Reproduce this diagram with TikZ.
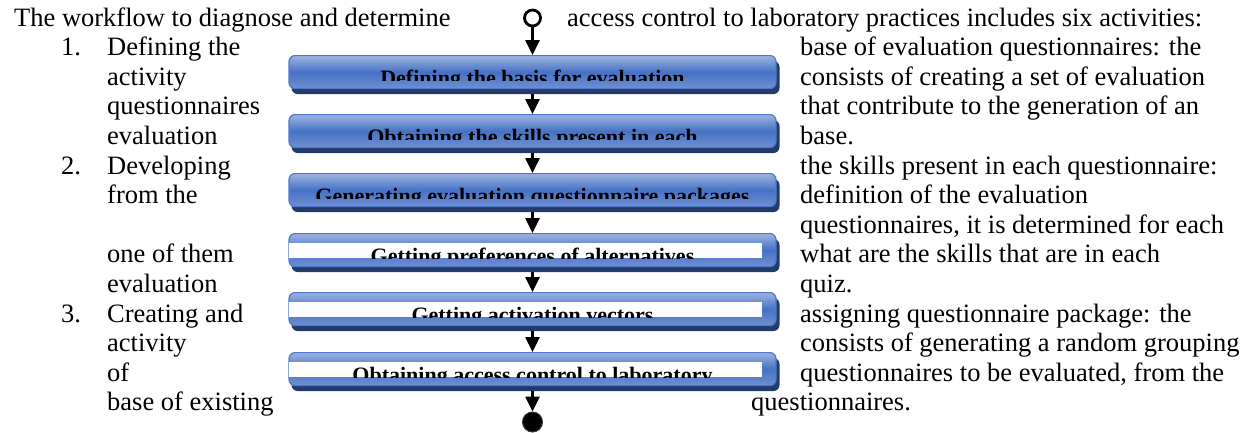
\documentclass[tikz,border=0pt]{standalone}
\usepackage{fontspec}
\setmainfont{Liberation Serif}
\usetikzlibrary{arrows.meta,backgrounds}

\definecolor{bxlight}{HTML}{9DB4E1}
\definecolor{bxmid}{HTML}{4672C4}
\definecolor{bxlow}{HTML}{6F8FD2}
\definecolor{bxedge}{HTML}{4F78C8}
\definecolor{bxshadow}{HTML}{223B6B}

\tikzset{
  txt/.style={anchor=base west, inner sep=0pt, font=\fontsize{26.5}{30}\selectfont},
  actbody/.style={rounded corners=6pt, draw=bxedge, line width=1.2pt,
    top color=bxlight, bottom color=bxlow, middle color=bxmid,
    minimum width=487pt, minimum height=33pt, inner sep=0pt, anchor=north},
  actlabel/.style={anchor=base, inner sep=0pt, font=\fontsize{22}{26}\selectfont\bfseries},
  flow/.style={line width=2.6pt, -{Triangle[width=14pt,length=15pt]}},
}

% activity box: #1 name, #2 top edge, #3 label, #4 = 1 for a white label band
\newcommand\actbox[4]{%
  \fill[bxshadow, rounded corners=6pt] (291.5,#2+6) rectangle (779.5,#2+39);
  \node[actbody] (#1) at (532.5,#2) {};
  \ifnum#4=1 \fill[white] (289,#2+10) rectangle (762,#2+25);\fi
  \begin{scope}
    \clip (289,#2) rectangle (777,#2+25);
    \node[actlabel] (#1t) at (532.5,#2+30) {#3};
  \end{scope}
}

\begin{document}
\begin{tikzpicture}[x=1pt, y=-1pt]
\useasboundingbox (0,0) rectangle (1257,432);

% running text, left and right of the flow chart
\node[txt] (l0) at (14,26) {The workflow to diagnose and determine};
\node[txt] (r0) at (567,26) {access control to laboratory practices includes six activities:};

\node[txt] (n1) at (61,55.6) {1.};
\node[txt] (l1) at (107,55.6) {Defining the};
\node[txt] (r1) at (800,55.6) {base of evaluation questionnaires: the};
\node[txt] (l2) at (107,85.2) {activity};
\node[txt] (r2) at (800,85.2) {consists of creating a set of evaluation};
\node[txt] (l3) at (107,114.8) {questionnaires};
\node[txt] (r3) at (800,114.8) {that contribute to the generation of an};
\node[txt] (l4) at (107,144.4) {evaluation};
\node[txt] (r4) at (800,144.4) {base.};
\node[txt] (n2) at (61,174) {2.};
\node[txt] (l5) at (107,174) {Developing};
\node[txt] (r5) at (800,174) {the skills present in each questionnaire:};
\node[txt] (l6) at (107,203.6) {from the};
\node[txt] (r6) at (800,203.6) {definition of the evaluation};
\node[txt] (r7) at (800,233.2) {questionnaires, it is determined for each};
\node[txt] (l8) at (107,262.8) {one of them};
\node[txt] (r8) at (800,262.8) {what are the skills that are in each};
\node[txt] (l9) at (107,292.4) {evaluation};
\node[txt] (r9) at (800,292.4) {quiz.};
\node[txt] (n3) at (61,322) {3.};
\node[txt] (l10) at (107,322) {Creating and};
\node[txt] (r10) at (800,322) {assigning questionnaire package: the};
\node[txt] (l11) at (107,351.6) {activity};
\node[txt] (r11) at (800,351.6) {consists of generating a random grouping};
\node[txt] (l12) at (107,381.2) {of};
\node[txt] (r12) at (800,381.2) {questionnaires to be evaluated, from the};
\node[txt] (l13) at (107,410.8) {base of existing};
\node[txt] (r13) at (751,410.8) {questionnaires.};

% flow chart
\node[circle, draw, line width=2.8pt, minimum size=16pt, inner sep=0pt] (start) at (532.5,18) {};
\actbox{b1}{55}{Defining the basis for evaluation}{0}
\actbox{b2}{114}{Obtaining the skills present in each}{0}
\actbox{b3}{173}{Generating evaluation questionnaire packages}{0}
\actbox{b4}{233}{Getting preferences of alternatives}{1}
\actbox{b5}{292}{Getting activation vectors}{1}
\actbox{b6}{352}{Obtaining access control to laboratory}{1}
\node[circle, fill=black, draw=black!80, line width=1pt, minimum size=20pt, inner sep=0pt] (stop) at (532.5,422) {};

\begin{scope}[on background layer]
  \draw[flow] (start) -- (b1);
  \draw[flow] (b1) -- (b2);
  \draw[flow] (b2) -- (b3);
  \draw[flow] (b3) -- (b4);
  \draw[flow] (b4) -- (b5);
  \draw[flow] (b5) -- (b6);
  \draw[flow] (b6) -- (stop);
\end{scope}
\end{tikzpicture}
\end{document}
